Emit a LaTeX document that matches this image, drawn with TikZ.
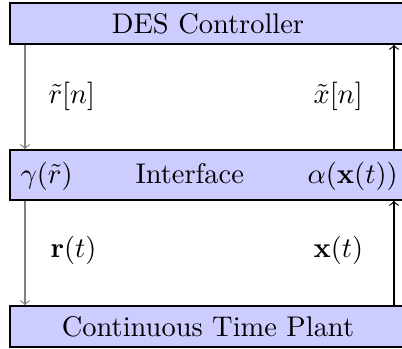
\documentclass[tikz,border=0pt]{standalone}
\begin{document}
\begin{tikzpicture}[x=0.3515pt,y=-0.3515pt,block/.style={draw=black,fill=blue!20,minimum width=139.2pt,inner sep=0pt},sig/.style={inner sep=0pt,anchor=base west}]
\def\lx{25};
\def\rx{394};
\def\hb{14.4pt};
\def\hm{17.6pt};

\useasboundingbox (0,0) rectangle (402,348);

\node[block,minimum height=\hb] (des) at (208,23.5) {DES Controller};
\node[block,minimum height=\hm] (intf) at (208,175) {};
\node[block,minimum height=\hb] (plant) at (208,326.5) {Continuous Time Plant};

\node[sig] (gam) at (20,183) {$\gamma(\tilde{r})$};
\node[sig] (itf) at (135,183) {Interface};
\node[sig] (alp) at (307,183) {$\alpha(\mathbf{x}(t))$};

\coordinate (lft) at (\lx,0);
\coordinate (rgt) at (\rx,0);

\draw[->,gray] (des.south -| lft) -- (intf.north -| lft);
\draw[->,gray] (intf.south -| lft) -- (plant.north -| lft);
\draw[->] (intf.north -| rgt) -- (des.south -| rgt);
\draw[->] (plant.north -| rgt) -- (intf.south -| rgt);

\node[sig] (rn) at (48,103) {$\tilde{r}[n]$};
\node[sig] (xn) at (313,103) {$\tilde{x}[n]$};
\node[sig] (rt) at (50,257) {$\mathbf{r}(t)$};
\node[sig] (xt) at (313,257) {$\mathbf{x}(t)$};
\end{tikzpicture}
\end{document}
